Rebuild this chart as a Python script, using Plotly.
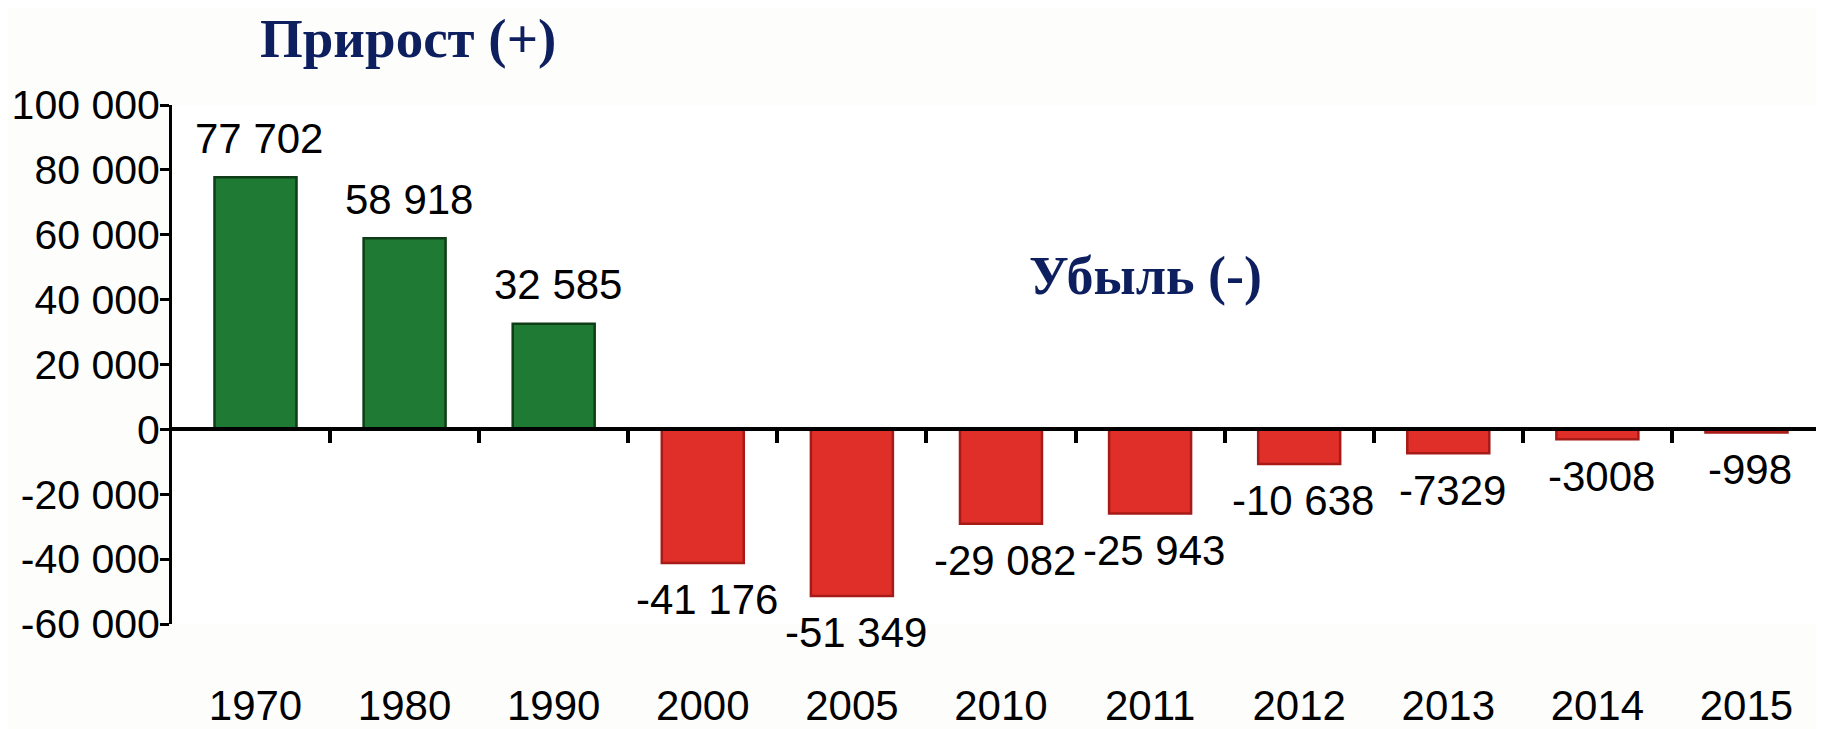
import plotly.graph_objects as go

years = ["1970", "1980", "1990", "2000", "2005", "2010", "2011", "2012", "2013", "2014", "2015"]
values = [77702, 58918, 32585, -41176, -51349, -29082, -25943, -10638, -7329, -3008, -998]
ytick_vals = [100000, 80000, 60000, 40000, 20000, 0, -20000, -40000, -60000]
title_pos = "Прирост (+)"
title_neg = "Убыль (-)"


def fmt(v):
    s = str(abs(v))
    if abs(v) >= 10000:
        s = s[:-3] + " " + s[-3:]
    return ("-" if v < 0 else "") + s


GREEN = "#1f7b33"
GREEN_EDGE = "#0e3d17"
RED = "#e02f29"
RED_EDGE = "#a61a17"
NAVY = "#0d1f5e"
FONT = "Liberation Sans, Arial, sans-serif"
SERIF = "Liberation Serif, Times New Roman, serif"

xs = list(range(len(years)))
colors = [GREEN if v >= 0 else RED for v in values]
edges = [GREEN_EDGE if v >= 0 else RED_EDGE for v in values]

fig = go.Figure()
fig.add_trace(go.Bar(
    x=xs, y=values, width=0.55,
    marker=dict(color=colors, line=dict(color=edges, width=2.5)),
    hoverinfo="skip", showlegend=False,
))
fig.add_trace(go.Scatter(x=[], y=[], xaxis="x2", yaxis="y", showlegend=False))

for i, v in enumerate(values):
    fig.add_annotation(
        x=i, y=v, xref="x", yref="y", text=fmt(v), showarrow=False,
        yshift=39 if v >= 0 else -37, xshift=4,
        font=dict(family=FONT, size=42, color="black"),
    )

fig.add_annotation(x=0.143, y=1.128, xref="paper", yref="paper", text="<b>" + title_pos + "</b>",
                   xanchor="center", yanchor="middle",
                   showarrow=False, font=dict(family=SERIF, size=55, color=NAVY))
fig.add_annotation(x=0.589, y=0.671, xref="paper", yref="paper", text="<b>" + title_neg + "</b>",
                   xanchor="center", yanchor="middle",
                   showarrow=False, font=dict(family=SERIF, size=54, color=NAVY))

xr = [-0.56, 10.52]
fig.update_layout(
    width=1816, height=721,
    margin=dict(l=164, r=0, t=97, b=105, autoexpand=False),
    paper_bgcolor="#fdfefb", plot_bgcolor="white",
    xaxis=dict(
        range=xr, anchor="free", position=0.375, automargin=False,
        showline=True, linecolor="black", linewidth=4,
        tickmode="array", tickvals=[i + 0.5 for i in xs],
        ticks="outside", ticklen=12, tickwidth=4, tickcolor="black",
        showticklabels=False, showgrid=False, zeroline=False,
    ),
    xaxis2=dict(
        range=xr, overlaying="x", anchor="y", side="bottom", automargin=False,
        tickmode="array", tickvals=xs, ticktext=years,
        showline=False, ticks="", showgrid=False, zeroline=False,
        ticklabelstandoff=53,
        tickfont=dict(family=FONT, size=42, color="black"),
    ),
    yaxis=dict(
        range=[-60000, 100000], automargin=False,
        tickmode="array", tickvals=ytick_vals, ticktext=[fmt(v) for v in ytick_vals],
        showline=True, linecolor="black", linewidth=3,
        ticks="outside", ticklen=9, tickwidth=3, tickcolor="black",
        ticklabelstandoff=-8,
        showgrid=False, zeroline=False,
        tickfont=dict(family=FONT, size=41, color="black"),
    ),
)

fig.write_html("out.html")
